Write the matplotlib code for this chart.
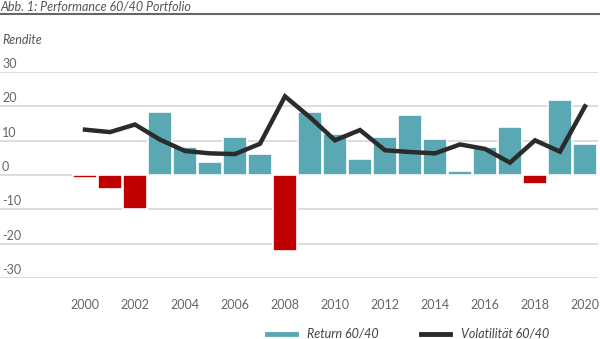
import matplotlib
matplotlib.use("Agg")
import matplotlib.pyplot as plt
from matplotlib.lines import Line2D
import matplotlib.transforms as mtransforms

plt.rcParams['font.family'] = ['Lato', 'DejaVu Sans']

years = list(range(2000, 2021))
returns = [-1.0, -4.0, -9.9, 18.3, 8.2, 3.9, 11.0, 6.2, -22.0, 18.4, 12.0,
           4.7, 11.2, 17.4, 10.5, 1.2, 8.2, 14.0, -2.5, 21.9, 8.9]
volatility = [13.2, 12.5, 14.7, 10.3, 7.0, 6.3, 6.1, 9.1, 22.9, 16.8, 10.1,
              13.1, 7.2, 6.7, 6.3, 8.9, 7.6, 3.6, 10.1, 6.8, 20.0]
yticks = [-30, -20, -10, 0, 10, 20, 30]
xticks = list(range(2000, 2021, 2))

title = "Abb. 1: Performance 60/40 Portfolio"
ylabel = "Rendite"
label_ret = "Return 60/40"
label_vol = "Volatilität 60/40"

teal = "#5aa8b4"
red = "#c00000"
dark = "#2b2b2b"
grey_txt = "#666666"

W, H = 600, 339
fig = plt.figure(figsize=(W / 100, H / 100), dpi=100)
ax = fig.add_axes([0, 1 - 278 / H, 598 / W, (278 - 72) / H])

colors = [teal if v >= 0 else red for v in returns]
ax.bar(years, returns, width=1.0, color=colors, edgecolor="white",
       linewidth=1.2, zorder=2)
ax.plot(years, volatility, color=dark, linewidth=3.2, zorder=3,
        solid_joinstyle="miter")

ax.set_ylim(-30, 30)
ax.set_xlim(2000 - 85 / 25, 2000 + 513 / 25)
ax.set_yticks(yticks)
ax.yaxis.grid(True, color="#d3d3d3", linewidth=1.1, zorder=0)
ax.set_axisbelow(True)
ax.tick_params(axis="y", length=0, labelleft=False)
ax.set_xticks(xticks)
ax.set_xticklabels([str(x) for x in xticks])
ax.tick_params(axis="x", length=0, pad=15, labelsize=9, labelcolor=grey_txt)
for s in ax.spines.values():
    s.set_visible(False)

trans = mtransforms.blended_transform_factory(ax.transAxes, ax.transData)
for t in yticks:
    ax.text(2 / 598, t + 0.6, str(t), transform=trans, ha="left", va="bottom",
            fontsize=9, color=grey_txt)

fig.text(0, 1 - 0.5 / H, title, ha="left", va="top", fontsize=9,
         style="italic", color="#555555")
fig.add_artist(Line2D([0, 1], [1 - 14 / H, 1 - 14 / H], transform=fig.transFigure,
                      color="#666666", linewidth=1.5))
fig.text(2 / W, 1 - 40 / H, ylabel, ha="left", va="center", fontsize=9,
         style="italic", color="#555555")

handles = [Line2D([], [], color=teal, linewidth=3.5),
           Line2D([], [], color=dark, linewidth=3.5)]
fig.legend(handles, [label_ret, label_vol], loc="center left",
           bbox_to_anchor=(267 / W, 1 - 334 / H), ncol=2, frameon=False,
           borderpad=0, borderaxespad=0, handlelength=2.3, handletextpad=0.9,
           columnspacing=3.4, prop={"style": "italic", "size": 9},
           labelcolor="#444444")

fig.savefig("out.png", dpi=100)
